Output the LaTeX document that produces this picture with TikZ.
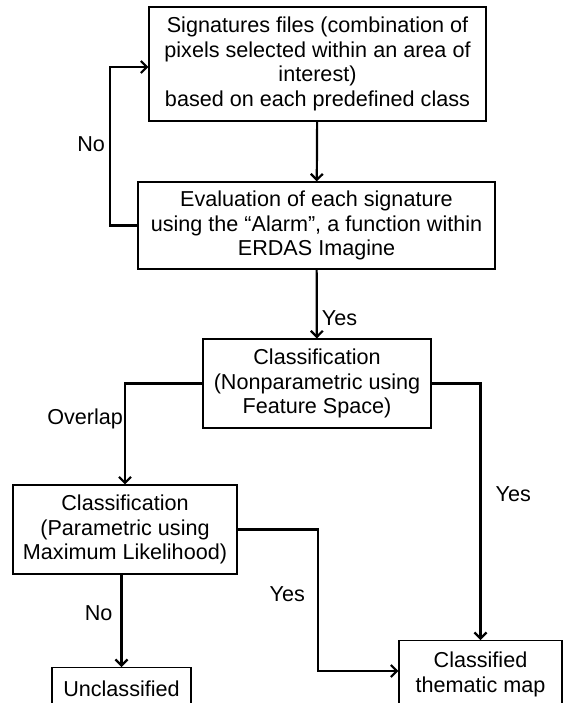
\documentclass[tikz,border=0pt]{standalone}
\usepackage{fontspec}
\setmainfont{Liberation Sans}
\usetikzlibrary{arrows.meta}
\tikzset{
  box/.style={draw, line width=0.6pt, align=center, inner sep=0pt,
    font=\fontsize{10.8}{12.2}\selectfont},
  conn/.style={-{Straight Barb[length=3pt, width=6pt]}, line width=1.1pt},
  lbl/.style={font=\fontsize{10.8}{12.2}\selectfont, inner sep=2pt}
}
\begin{document}
\begin{tikzpicture}[x=0.5pt,y=-0.5pt]
  \useasboundingbox (0,0) rectangle (563,703);
  % boxes
  \node[box, minimum width=168.5pt, minimum height=57pt] (sig) at (317.5,64)
    {Signatures files (combination of\\pixels selected within an area of\\interest)\\based on each predefined class};
  \node[box, minimum width=178.5pt, minimum height=43.5pt] (eval) at (316.5,225.5)
    {Evaluation of each signature\\using the “Alarm”, a function within\\ERDAS Imagine};
  \node[box, minimum width=114pt, minimum height=44.5pt] (cls1) at (317,383.5)
    {Classification\\(Nonparametric using\\Feature Space)};
  \node[box, minimum width=112pt, minimum height=44.5pt] (cls2) at (125,529.5)
    {Classification\\(Parametric using\\Maximum Likelihood)};
  \node[box, anchor=north, minimum width=69.5pt, minimum height=21pt] (uncl) at (121.5,667)
    {Unclassified};
  \node[box, anchor=north, minimum width=81.5pt, minimum height=34pt] (map) at (480.5,640)
    {Classified\\thematic map};
  % bends
  \coordinate (loopT) at (110,67);
  \coordinate (bendB) at (318,671);
  % connectors
  \draw[conn] (sig) -- (eval);
  \draw[conn] (eval.west) -| node[lbl, left, pos=0.756] (no1) {No} (loopT) -- (loopT -| sig.west);
  \draw[conn] (eval) -- node[lbl, right, pos=0.7] (yes1) {Yes} (cls1);
  \draw[conn] (cls1.west) -| node[lbl, left, pos=0.675, inner sep=0.5pt] (ovl) {Overlap} (cls2.north);
  \draw[conn] (cls1.east) -| node[lbl, right, pos=0.715, xshift=5pt] (yes2) {Yes} (map.north);
  \draw[conn] (cls2.east) -| node[lbl, left, pos=0.73, xshift=-4pt] (yes3) {Yes} (bendB) -- (bendB -| map.west);
  \draw[conn] (cls2.south -| uncl.north) -- node[lbl, left, pos=0.42, xshift=-2pt] (no2) {No} (uncl.north);
\end{tikzpicture}
\end{document}
